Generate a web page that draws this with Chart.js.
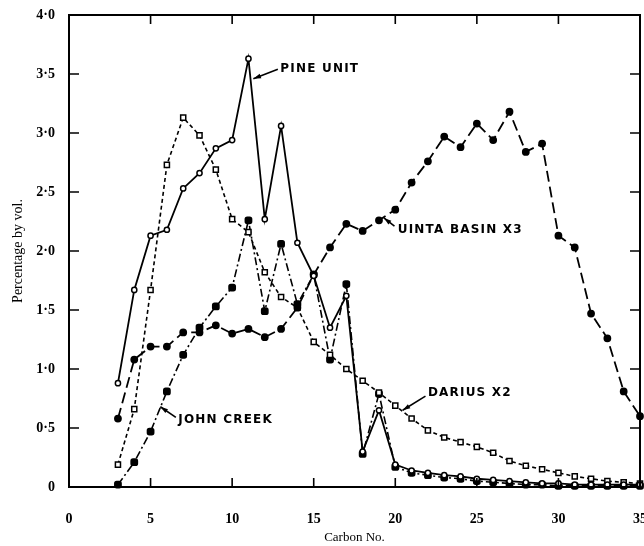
<!DOCTYPE html>
<html>
<head>
<meta charset="utf-8">
<script src="https://cdn.jsdelivr.net/npm/chart.js@4.4.0/dist/chart.umd.min.js"></script>
<style>
  html, body { margin: 0; padding: 0; background: #fff; overflow: hidden; }
  #wrap { width: 644px; height: 546px; position: relative; }
  canvas { display: block; }
</style>
</head>
<body>
<div id="wrap"><canvas id="chart"></canvas></div>
<script>
// carbon numbers along the x axis
const carbon = [3, 4, 5, 6, 7, 8, 9, 10, 11, 12, 13, 14, 15, 16, 17, 18, 19, 20, 21, 22, 23, 24, 25, 26, 27, 28, 29, 30, 31, 32, 33, 34, 35]

const pineUnit = [0.88, 1.67, 2.13, 2.18, 2.53, 2.66, 2.87, 2.94, 3.63, 2.27, 3.06, 2.07, 1.79, 1.35, 1.62, 0.30, 0.65, 0.19, 0.14, 0.12, 0.10, 0.09, 0.07, 0.06, 0.05, 0.04, 0.03, 0.03, 0.02, 0.02, 0.02, 0.02, 0.02]
const uintaBasin = [0.58, 1.08, 1.19, 1.19, 1.31, 1.31, 1.37, 1.30, 1.34, 1.27, 1.34, 1.52, 1.80, 2.03, 2.23, 2.17, 2.26, 2.35, 2.58, 2.76, 2.97, 2.88, 3.08, 2.94, 3.18, 2.84, 2.91, 2.13, 2.03, 1.47, 1.26, 0.81, 0.60]
const dariusX2 = [0.19, 0.66, 1.67, 2.73, 3.13, 2.98, 2.69, 2.27, 2.16, 1.82, 1.61, 1.52, 1.23, 1.12, 1.00, 0.90, 0.80, 0.69, 0.58, 0.48, 0.42, 0.38, 0.34, 0.29, 0.22, 0.18, 0.15, 0.12, 0.09, 0.07, 0.05, 0.04, 0.03]
const johnCreek = [0.02, 0.21, 0.47, 0.81, 1.12, 1.35, 1.53, 1.69, 2.26, 1.49, 2.06, 1.55, 1.80, 1.08, 1.72, 0.28, 0.79, 0.17, 0.12, 0.10, 0.08, 0.07, 0.05, 0.04, 0.03, 0.02, 0.02, 0.01, 0.01, 0.01, 0.01, 0.01, 0.01]

const xTicks = [0, 5, 10, 15, 20, 25, 30, 35]
const yTicks = [0, 0.5, 1.0, 1.5, 2.0, 2.5, 3.0, 3.5, 4.0]

function pts(vals) {
  return carbon.map((c, i) => ({ x: c, y: vals[i] }))
}

// frame with inward ticks + the curve labels
const framePlugin = {
  id: 'frame',
  afterDraw(chart) {
    const ctx = chart.ctx
    const a = chart.chartArea
    const xs = chart.scales.x
    const ys = chart.scales.y
    ctx.save()
    ctx.strokeStyle = '#000'
    ctx.lineWidth = 2
    ctx.strokeRect(a.left, a.top, a.right - a.left, a.bottom - a.top)
    ctx.lineWidth = 1.6
    ctx.beginPath()
    xTicks.forEach(v => {
      const px = xs.getPixelForValue(v)
      ctx.moveTo(px, a.bottom); ctx.lineTo(px, a.bottom - 9)
      ctx.moveTo(px, a.top); ctx.lineTo(px, a.top + 9)
    })
    yTicks.forEach(v => {
      const py = ys.getPixelForValue(v)
      ctx.moveTo(a.left, py); ctx.lineTo(a.left + 10, py)
      ctx.moveTo(a.right, py); ctx.lineTo(a.right - 10, py)
    })
    ctx.stroke()

    // labels
    const lbl = (text, x, y) => {
      ctx.font = 'bold 12px "DejaVu Sans"'
      ctx.letterSpacing = '1.2px'
      ctx.fillStyle = '#000'
      ctx.textBaseline = 'middle'
      ctx.textAlign = 'left'
      ctx.fillText(text, xs.getPixelForValue(x), ys.getPixelForValue(y))
    }
    const arrow = (x1, y1, x2, y2) => {
      const ax = xs.getPixelForValue(x1), ay = ys.getPixelForValue(y1)
      const bx = xs.getPixelForValue(x2), by = ys.getPixelForValue(y2)
      ctx.lineWidth = 1.6
      ctx.beginPath(); ctx.moveTo(ax, ay); ctx.lineTo(bx, by); ctx.stroke()
      const ang = Math.atan2(by - ay, bx - ax)
      ctx.beginPath()
      ctx.moveTo(bx, by)
      ctx.lineTo(bx - 8 * Math.cos(ang - 0.3), by - 8 * Math.sin(ang - 0.3))
      ctx.lineTo(bx - 8 * Math.cos(ang + 0.3), by - 8 * Math.sin(ang + 0.3))
      ctx.closePath(); ctx.fill()
    }
    lbl('PINE UNIT', 12.95, 3.54)
    arrow(12.8, 3.54, 11.3, 3.46)
    lbl('UINTA BASIN X3', 20.15, 2.18)
    arrow(19.95, 2.21, 19.3, 2.28)
    lbl('DARIUS X2', 22.0, 0.80)
    arrow(21.85, 0.77, 20.45, 0.65)
    lbl('JOHN CREEK', 6.7, 0.57)
    arrow(6.55, 0.59, 5.6, 0.68)
    ctx.restore()
  }
}

const ctx = document.getElementById('chart').getContext('2d')
const chart = new Chart(ctx, {
  type: 'line',
  data: {
    datasets: [
      {
        label: 'Pine Unit',
        data: pts(pineUnit),
        borderColor: '#000', borderWidth: 1.8,
        pointStyle: 'circle', pointRadius: 2.6,
        pointBackgroundColor: '#fff', pointBorderColor: '#000', pointBorderWidth: 1.5
      },
      {
        label: 'Uinta Basin X3',
        data: pts(uintaBasin),
        borderColor: '#000', borderWidth: 1.8, borderDash: [11, 5],
        pointStyle: 'circle', pointRadius: 3,
        pointBackgroundColor: '#000', pointBorderColor: '#000'
      },
      {
        label: 'Darius X2',
        data: pts(dariusX2),
        borderColor: '#000', borderWidth: 1.6, borderDash: [4, 3],
        pointStyle: 'rect', pointRadius: 3.6,
        pointBackgroundColor: '#fff', pointBorderColor: '#000', pointBorderWidth: 1.5
      },
      {
        label: 'John Creek',
        data: pts(johnCreek),
        borderColor: '#000', borderWidth: 1.6, borderDash: [8, 3, 2, 3],
        pointStyle: 'rectRounded', pointRadius: 3.6,
        pointBackgroundColor: '#000', pointBorderColor: '#000'
      }
    ]
  },
  options: {
    responsive: true,
    maintainAspectRatio: false,
    animation: false,
    clip: 8,
    layout: { autoPadding: false, padding: { left: 0, top: 15, right: 4, bottom: 0 } },
    plugins: { legend: { display: false }, tooltip: { enabled: false } },
    elements: { line: { tension: 0, fill: false } },
    scales: {
      x: {
        type: 'linear', min: 0, max: 35,
        grid: { display: false, drawTicks: false },
        border: { display: false },
        afterBuildTicks: s => { s.ticks = xTicks.map(v => ({ value: v })) },
        afterFit: s => { s.height = 59; s.paddingLeft = 0; s.paddingRight = 0 },
        ticks: {
          color: '#000', padding: 24,
          font: { family: '"Liberation Serif"', size: 14, weight: 'bold' },
          maxRotation: 0, autoSkip: false
        },
        title: {
          display: true, text: 'Carbon No.', color: '#000',
          font: { family: '"Liberation Serif"', size: 13 },
          padding: { top: 0, bottom: 1 }
        }
      },
      y: {
        type: 'linear', min: 0, max: 4,
        grid: { display: false, drawTicks: false },
        border: { display: false },
        afterBuildTicks: s => { s.ticks = yTicks.map(v => ({ value: v })) },
        afterFit: s => { s.width = 69; s.paddingTop = 0; s.paddingBottom = 0 },
        ticks: {
          color: '#000', padding: 14,
          font: { family: '"Liberation Serif"', size: 14, weight: 'bold' },
          callback: v => v === 0 ? '0' : v.toFixed(1).replace('.', '·')
        },
        title: {
          display: true, text: 'Percentage by vol.', color: '#000',
          font: { family: '"Liberation Serif"', size: 14 },
          padding: { top: 10, bottom: 0 }
        }
      }
    }
  },
  plugins: [framePlugin]
})
</script>
</body>
</html>
